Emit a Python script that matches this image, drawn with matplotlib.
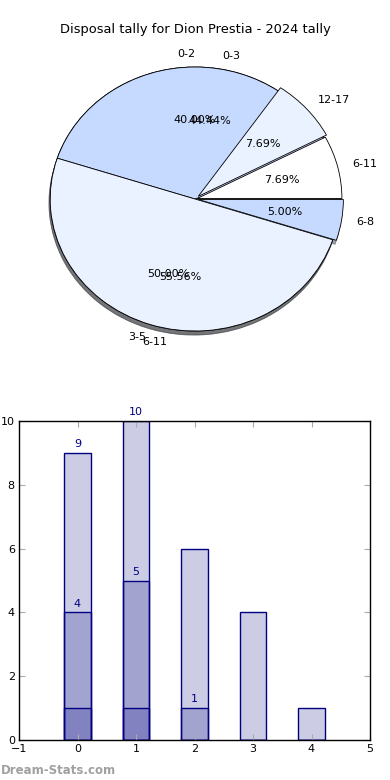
import matplotlib
matplotlib.use("Agg")
import matplotlib.pyplot as plt

title = "Disposal tally for Dion Prestia - 2024 tally"

# pie layers, fraction of games in each disposal band
labels_a = ["0-3", "6-11"]
fracs_a = [4 / 9, 5 / 9]
labels_b = ["0-2", "3-5", "6-8"]
fracs_b = [0.40, 0.50, 0.05]
labels_c = ["6-11", "12-17"]
fracs_c = [1 / 13, 1 / 13]

# bar tallies (three overlaid series)
bins = [0, 1, 2, 3, 4]
tally_1 = [9, 10, 6, 4, 1]
tally_2 = [4, 5, 1, 0, 0]
tally_3 = [1, 1, 0, 0, 0]
shown_1 = [9, 10, None, None, None]
shown_2 = [4, 5, 1, None, None]

LB = "#c6d9ff"
VL = "#ebf2ff"
W = "#ffffff"

fig = plt.figure(figsize=(3.9, 7.8), dpi=100)
fig.text(0.5, 1 - 30 / 780, title, ha="center", va="center", fontsize=9.4)

# ---- pie ----
ax = fig.add_axes([14 / 390, 1 - 364 / 780, 362 / 390, 330 / 780])
wp = dict(edgecolor="black", linewidth=0.6)
tp = dict(fontsize=8)
sh = dict(ox=-0.006, oy=-0.022)
ax.pie(fracs_a, labels=labels_a, autopct="%.2f%%", colors=[LB, VL],
       startangle=0, shadow=sh, wedgeprops=wp, textprops=tp)
ax.pie(fracs_b, labels=labels_b, autopct="%.2f%%", colors=[LB, VL, LB],
       normalize=False, startangle=18, explode=[0, 0, 0.025],
       shadow=sh, wedgeprops=wp, textprops=tp)
ax.pie(fracs_c, labels=labels_c, autopct="%.2f%%", colors=[W, VL],
       normalize=False, startangle=0, explode=[0.015, 0.03],
       shadow=sh, wedgeprops=wp, textprops=tp)
ax.set_aspect("auto")
ax.set_xlim(-1.25, 1.25)
ax.set_ylim(-1.25, 1.25)
ax.axis("off")

# ---- bars ----
bx = fig.add_axes([19 / 390, 1 - 740 / 780, 351 / 390, 319 / 780])
for t in (tally_1, tally_2, tally_3):
    bx.bar(bins, t, width=0.45, color="navy", alpha=0.2)
    bx.bar(bins, t, width=0.45, fill=False, edgecolor="navy", linewidth=1)
for shown in (shown_1, shown_2):
    for x, v in zip(bins, shown):
        if v is not None:
            bx.text(x, v + 0.12, str(v), ha="center", va="bottom",
                    color="navy", fontsize=8)
bx.set_xlim(-1, 5)
bx.set_ylim(0, 10)
bx.set_xticks(range(-1, 6))
bx.set_yticks(range(0, 11, 2))
bx.set_xticklabels(["\u22121", "0", "1", "2", "3", "4", "5"])
bx.tick_params(direction="in", top=True, right=True, length=4,
               color="#aaaaaa", labelsize=8, pad=3)
for s in bx.spines.values():
    s.set_linewidth(1)

fig.text(0.5 / 390, 1 - 770 / 780, "Dream-Stats.com", ha="left", va="center",
         fontsize=8.5, color="#a0a0a0", fontweight="bold")

fig.savefig("out.png", dpi=100)
